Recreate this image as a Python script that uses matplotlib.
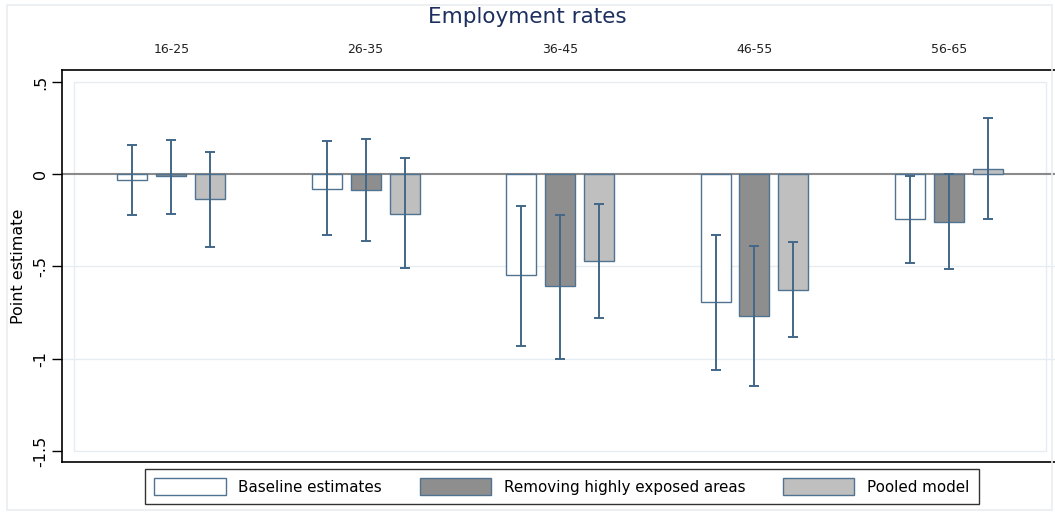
import numpy as np
import matplotlib
matplotlib.use('Agg')
import matplotlib.pyplot as plt
from matplotlib.patches import Rectangle

groups = ['16-25', '26-35', '36-45', '46-55', '56-65']
series = ['Baseline estimates', 'Removing highly exposed areas', 'Pooled model']

baseline = [-0.03, -0.078, -0.548, -0.695, -0.244]
baseline_lo = [-0.222, -0.329, -0.93, -1.06, -0.48]
baseline_hi = [0.16, 0.179, -0.17, -0.331, -0.007]

removing = [-0.012, -0.085, -0.608, -0.767, -0.26]
removing_lo = [-0.213, -0.361, -1.0, -1.148, -0.515]
removing_hi = [0.186, 0.191, -0.22, -0.388, 0.002]

pooled = [-0.137, -0.215, -0.469, -0.625, 0.031]
pooled_lo = [-0.396, -0.51, -0.778, -0.885, -0.245]
pooled_hi = [0.121, 0.087, -0.163, -0.365, 0.307]

fills = ['white', '#8e8e8e', '#bfbfbf']
edge = '#4f7391'
ebar = '#426787'
light = '#e6edf2'

W, H = 1055, 513
fig = plt.figure(figsize=(W / 100, H / 100), dpi=100)

# outer graph region border
fig.patches.append(Rectangle((7 / W, 1 - 510 / H), (1052 - 7) / W, (510 - 5) / H,
                             transform=fig.transFigure, fill=False,
                             edgecolor='#e9eef1', lw=1.2))

ax = fig.add_axes([62 / W, 1 - 462 / H, (1062 - 62) / W, (462 - 70) / H])
x = np.arange(len(groups))
ax.set_xlim(-0.562, -0.562 + 1000 / 194.4)
ax.set_ylim(-1.56, 0.565)

# plot region and grid
ax.add_patch(Rectangle((-0.5, -1.5), 5.0, 2.0, fill=False, edgecolor=light, lw=1.0, zorder=0))
for g in [-0.5, -1.0]:
    ax.axhline(g, color=light, lw=1.0, zorder=0)
ax.axhline(0, color='#8a8a8a', lw=1.5, zorder=1)

width = 0.154
offs = [-0.2, 0.0, 0.2]
vals = [baseline, removing, pooled]
los = [baseline_lo, removing_lo, pooled_lo]
his = [baseline_hi, removing_hi, pooled_hi]
handles = []
for k in range(3):
    xs = x + offs[k]
    b = ax.bar(xs, vals[k], width, color=fills[k], edgecolor=edge, lw=1.0, zorder=2,
               label=series[k])
    handles.append(b)
    v = np.array(vals[k])
    err = [v - np.array(los[k]), np.array(his[k]) - v]
    ax.errorbar(xs, v, yerr=err, fmt='none', ecolor=ebar, elinewidth=1.4,
                capsize=3.8, capthick=1.4, zorder=3)

for i, g in enumerate(groups):
    ax.text(x[i], 0.675, g, ha='center', va='center', fontsize=9, color='#222222')
fig.text(0.5, 1 - 17 / H, 'Employment rates', ha='center', va='center',
         fontsize=15.5, color='#1c2f5e')

ax.set_yticks([0.5, 0, -0.5, -1, -1.5])
ax.set_yticklabels(['.5', '0', '-.5', '-1', '-1.5'], rotation=90, va='center', fontsize=11.5)
ax.tick_params(axis='y', length=7, width=1, pad=3)
ax.set_xticks([])
ax.set_ylabel('Point estimate', fontsize=11.5, labelpad=5)
for s in ['left', 'bottom', 'top']:
    ax.spines[s].set_color('black')
    ax.spines[s].set_linewidth(1.2)
ax.spines['right'].set_visible(False)

leg = fig.legend(handles=handles, labels=series, loc='center',
                 bbox_to_anchor=(562 / W, 1 - 486.5 / H), ncol=3,
                 fontsize=10.9, frameon=True, fancybox=False, edgecolor='black',
                 handlelength=4.7, handleheight=1.3, columnspacing=2.5,
                 borderpad=0.62, handletextpad=0.85, borderaxespad=0)
leg.get_frame().set_linewidth(1.0)

fig.savefig('out.png', dpi=100)
